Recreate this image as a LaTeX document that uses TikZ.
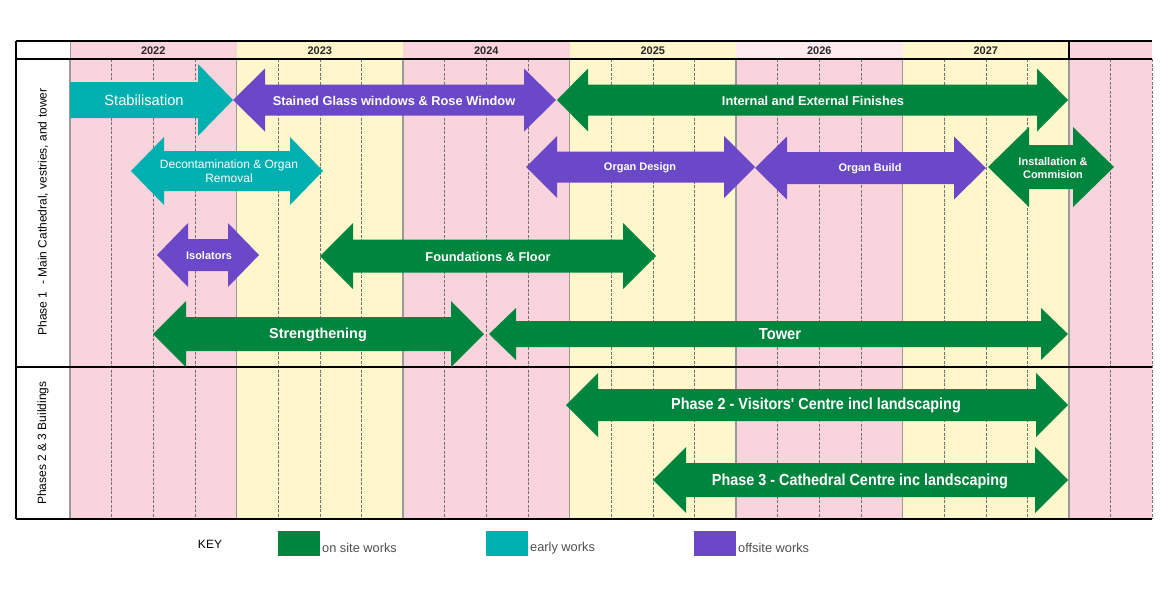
\documentclass[tikz,border=0pt]{standalone}
\usepackage{fontspec}
\setmainfont{Liberation Sans}
\newfontfamily\plainsans{Liberation Sans}
\usepackage{tikz}

\definecolor{onsite}{RGB}{0,133,62}
\definecolor{early}{RGB}{0,176,176}
\definecolor{offsite}{RGB}{106,72,200}
\definecolor{pinkbg}{RGB}{250,212,220}
\definecolor{yellowbg}{RGB}{255,247,204}
\definecolor{palepink}{RGB}{253,234,238}
\definecolor{keygrey}{RGB}{80,80,80}

\begin{document}
\begin{tikzpicture}[x=1pt, y=-1pt,
    lbl/.style={text=white, font=\bfseries\fontsize{12.8}{14}\selectfont, align=center, inner sep=0pt},
    big/.style={lbl, font=\bfseries\fontsize{14.4}{16}\selectfont},
    narrow/.style={lbl, font=\bfseries\fontsize{16}{18}\selectfont},
    small/.style={lbl, font=\bfseries\fontsize{11}{13.5}\selectfont},
    qline/.style={black!55, dash pattern=on 3pt off 1.5pt, line width=0.4pt},
    yline/.style={black!40, line width=1.2pt},
    rule/.style={black, line width=1.1pt},
    keytxt/.style={text=keygrey, font=\fontsize{12.8}{14}\selectfont, anchor=west, inner sep=0pt}]
    \useasboundingbox (0,0) rectangle (1170,600);
    \fill[white] (0,0) rectangle (1170,600);
        % year bands
        \foreach \i/\bg/\hd/\yr in {0/pinkbg/pinkbg/2022, 1/yellowbg/yellowbg/2023,
        2/pinkbg/pinkbg/2024, 3/yellowbg/yellowbg/2025, 4/pinkbg/palepink/2026,
        5/yellowbg/yellowbg/2027}
        {
        \fill[\bg] ({70+166.5*\i},59) rectangle +(166.5,460);
        \fill[\hd] ({70+166.5*\i},41) rectangle +(166.5,18);
        \node[font=\bfseries\fontsize{11}{13}\selectfont, text=black!85] (y\yr)
        at ({153.25+166.5*\i},50.5) {\yr};
        }
        \fill[pinkbg] (1069,41) rectangle (1152.25,519);
        \foreach \q in {0,...,26}
        \draw[qline] ({70+41.625*\q},59) -- ++(0,460);
        \foreach \q in {0,4,...,24}
        \draw[yline] ({70+41.625*\q},59) -- ++(0,460);
        \draw[yline, line width=0.8pt] (70,41) -- (70,59);
        \draw[rule] (1069,41) -- (1069,59);
        \draw[rule] (16,41) -- (1152.25,41) (16,59) -- (1152.25,59)
        (16,367) -- (1152.25,367) (16,519) -- (1152.25,519) (16,41) -- (16,519);
        % row titles
        \node[rotate=90, font=\fontsize{12}{13}\selectfont] (phase1) at (43,212)
        {Phase 1 \ - Main Cathedral, vestries, and tower};
        \node[rotate=90, font=\fontsize{12}{13}\selectfont] (phase23) at (43,443)
        {Phases 2 \& 3 Buildings};
        % single arrow
        \fill[early] (70,82) -- (198,82) -- (198,64) -- (233,100) -- (198,136)
        -- (198,118) -- (70,118) -- cycle;
        % double arrows: left tip / right tip / centre / shaft / head / head length
        \foreach \xa/\xb/\yc/\bh/\hh/\hl/\col in {
        233/556/100/15.5/31.5/32/offsite, 557/1068/100/15.5/31.5/31/onsite,
        131/323/171/20/34/33/early, 526/755/167/15.5/31/31/offsite,
        755/986/168/16/31.5/32/offsite, 988/1114/167/22/40/41/onsite,
        157/259/255/16/32/31/offsite, 320/656/256/16.5/33/33/onsite,
        153/484/334/17/33/33/onsite, 489/1068/334/13/26/27/onsite,
        566/1068/405/16/32/32/onsite, 653/1068/480/17/33/33/onsite}
        \fill[\col] (\xa,\yc) -- (\xa+\hl,\yc-\hh) -- (\xa+\hl,\yc-\bh)
        -- (\xb-\hl,\yc-\bh) -- (\xb-\hl,\yc-\hh) -- (\xb,\yc)
        -- (\xb-\hl,\yc+\hh) -- (\xb-\hl,\yc+\bh) -- (\xa+\hl,\yc+\bh)
        -- (\xa+\hl,\yc+\hh) -- cycle;
        % arrow labels
        \node[lbl, font=\fontsize{14.7}{16}\selectfont] (stab) at (144,100.5) {Stabilisation};
        \node[lbl] (glass) at (394,100.5) {Stained Glass windows \& Rose Window};
        \node[lbl] (finish) at (813,100.5) {Internal and External Finishes};
        \node[lbl, font=\fontsize{12}{14}\selectfont] (decon) at (229,171)
        {Decontamination \& Organ\\Removal};
        \node[small] (design) at (640,167.5) {Organ Design};
        \node[small] (build) at (870,168.5) {Organ Build};
        \node[small] (install) at (1053,168) {Installation \&\\Commision};
        \node[small] (isol) at (209,255.5) {Isolators};
        \node[lbl] (found) at (488,256.5) {Foundations \& Floor};
        \node[big] (strength) at (318,335) {Strengthening};
        \node[narrow] (tower) at (780,334) {\scalebox{0.92}[1]{Tower}};
        \node[narrow] (visit) at (816,405.5)
        {\scalebox{0.9}[1]{Phase 2 - Visitors{\plainsans\bfseries '} Centre incl landscaping}};
        \node[narrow] (centre) at (860,481)
        {\scalebox{0.9}[1]{Phase 3 - Cathedral Centre inc landscaping}};
        % key
        \node[font=\fontsize{12}{14}\selectfont] (key) at (210,544) {KEY};
        \foreach \x/\col/\txt/\nm in {278/onsite/on site works/ksite,
        486/early/early works/kearly, 694/offsite/offsite works/koff}
        {
        \fill[\col] (\x,531) rectangle +(42,25);
        \node[keytxt] (\nm) at (\x+44,548) {\txt};
        }
    \end{tikzpicture}
\end{document}
